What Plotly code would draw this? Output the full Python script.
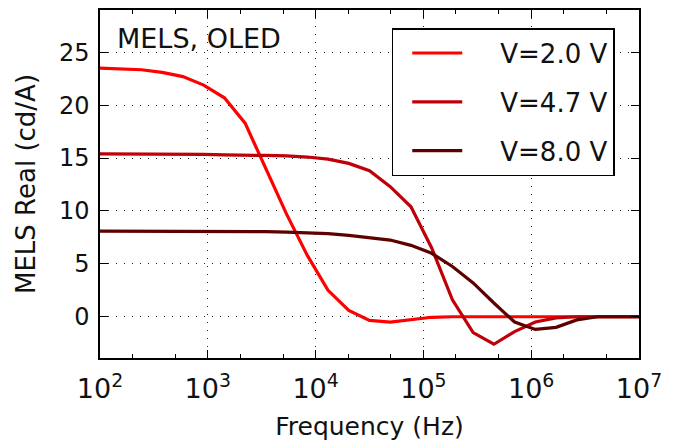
import plotly.graph_objects as go

# Frequencies (Hz), log-spaced samples
freq = [100, 155.7, 242.4, 377.5, 587.8, 915.1, 1425, 2219, 3455, 5380, 8377,
        13044, 20309, 31623, 49239, 76667, 119378, 185879, 289427, 450657,
        701704, 1092601, 1701254, 2648980, 4124626, 6422325, 10000000]

v20 = [23.5, 23.45, 23.35, 23.1, 22.7, 21.9, 20.7, 18.3, 14.0, 9.7, 5.8,
       2.5, 0.6, -0.35, -0.5, -0.25, -0.05, 0.0, 0.0, 0.0,
       0.0, 0.0, 0.0, 0.0, 0.0, 0.0, 0.0]

v47 = [15.4, 15.4, 15.4, 15.4, 15.35, 15.35, 15.3, 15.3, 15.25, 15.2, 15.1,
       14.9, 14.5, 13.8, 12.3, 10.4, 6.5, 1.6, -1.5, -2.6,
       -1.4, -0.5, -0.1, 0.0, 0.0, 0.0, 0.0]

v80 = [8.1, 8.1, 8.1, 8.1, 8.1, 8.1, 8.1, 8.1, 8.05, 8.0, 7.95,
       7.85, 7.7, 7.5, 7.25, 6.75, 6.0, 4.75, 3.2, 1.3,
       -0.5, -1.2, -1.0, -0.3, 0.0, 0.0, 0.0]

series_names = ["V=2.0 V", "V=4.7 V", "V=8.0 V"]
series_colors = ["#ff0000", "#c00008", "#5e0000"]

x_tickvals = [1e2, 1e3, 1e4, 1e5, 1e6, 1e7]
x_ticktext = ["10<sup>2</sup>", "10<sup>3</sup>", "10<sup>4</sup>",
              "10<sup>5</sup>", "10<sup>6</sup>", "10<sup>7</sup>"]
y_tickvals = [0, 5, 10, 15, 20, 25]

FONT = "DejaVu Sans"
PAD = "\u00a0\u00a0\u00a0\u00a0"

fig = go.Figure()
for name, vals, col in zip(series_names, [v20, v47, v80], series_colors):
    fig.add_trace(go.Scatter(x=freq, y=vals, mode="lines", name=PAD + name,
                             legendgroup=name,
                             line=dict(color=col, width=3.2)))

axis_common = dict(showline=True, linecolor="black", linewidth=1.5,
                   mirror="ticks", ticks="inside", ticklen=8, tickwidth=1,
                   tickcolor="black", showgrid=True, gridcolor="#222222",
                   gridwidth=1, griddash="1px,7px", zeroline=False,
                   automargin=False)

fig.update_xaxes(type="log", range=[2, 7], tickvals=x_tickvals,
                 ticktext=x_ticktext, ticklabelstandoff=6,
                 tickfont=dict(family=FONT, size=27, color="#111111"),
                 minor=dict(ticks="inside", ticklen=4, tickcolor="black",
                            showgrid=False),
                 title=dict(text="Frequency (Hz)",
                            font=dict(family=FONT, size=25, color="#111111"),
                            standoff=14),
                 **axis_common)
fig.update_yaxes(range=[-3.9, 29], tickvals=y_tickvals, ticklabelstandoff=4,
                 tickfont=dict(family=FONT, size=24, color="#111111"),
                 title=dict(text="MELS Real (cd/A)",
                            font=dict(family=FONT, size=26, color="#111111"),
                            standoff=16),
                 **axis_common)

fig.add_annotation(text="MELS, OLED", xref="paper", yref="paper",
                   x=0.028, y=0.917, xanchor="left", yanchor="middle",
                   showarrow=False,
                   font=dict(family=FONT, size=27, color="#111111"))

fig.update_layout(
    width=674, height=443,
    margin=dict(l=100, r=35, t=10, b=85),
    paper_bgcolor="white", plot_bgcolor="white",
    showlegend=True,
    legend=dict(x=0.955, y=0.948, xanchor="right", yanchor="top",
                bgcolor="white", bordercolor="black", borderwidth=1.5,
                font=dict(family=FONT, size=26, color="#111111"),
                tracegroupgap=12, itemwidth=50, indentation=14),
    font=dict(family=FONT),
)

fig.write_html("out.html", config={"displayModeBar": False},
               post_script="document.body.style.margin='0';"
                           "document.body.style.overflow='hidden';")
